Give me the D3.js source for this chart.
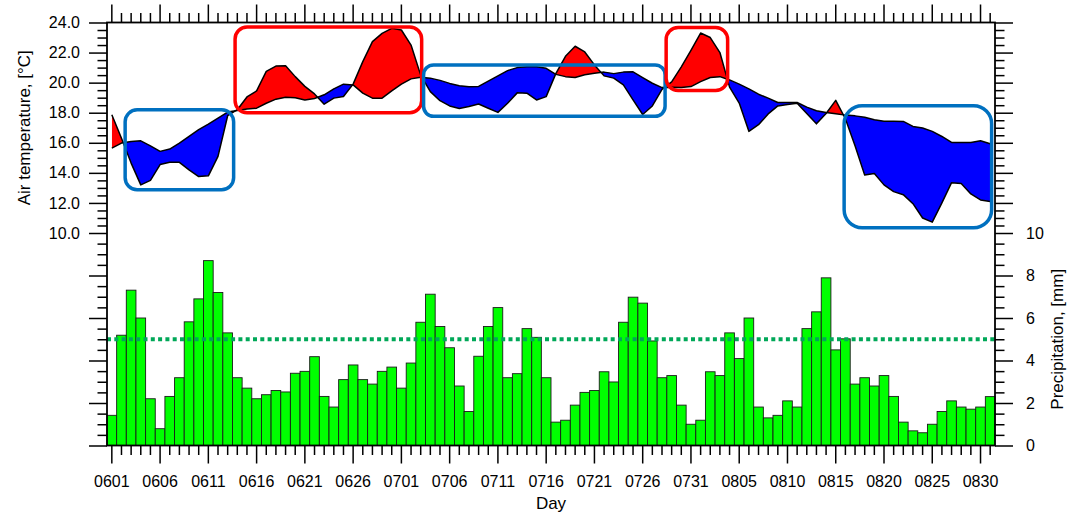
<!DOCTYPE html>
<html>
<head>
<meta charset="utf-8">
<script src="https://cdn.jsdelivr.net/npm/d3@7"></script>
<style>
  html, body { margin: 0; padding: 0; background: #fff; }
  svg { display: block; font-family: "Liberation Sans", Arial, Helvetica, sans-serif; }
</style>
</head>
<body>
<svg id="chart" width="1068" height="515"></svg>
<script>
// ---------------- DATA ----------------
const days = [
  "0601","0602","0603","0604","0605","0606","0607","0608","0609","0610",
  "0611","0612","0613","0614","0615","0616","0617","0618","0619","0620",
  "0621","0622","0623","0624","0625","0626","0627","0628","0629","0630",
  "0701","0702","0703","0704","0705","0706","0707","0708","0709","0710",
  "0711","0712","0713","0714","0715","0716","0717","0718","0719","0720",
  "0721","0722","0723","0724","0725","0726","0727","0728","0729","0730","0731",
  "0801","0802","0803","0804","0805","0806","0807","0808","0809","0810",
  "0811","0812","0813","0814","0815","0816","0817","0818","0819","0820",
  "0821","0822","0823","0824","0825","0826","0827","0828","0829","0830","0831"
];

// Air temperature (this period) – red where above reference, blue where below
const tempObserved = [
  17.86, 16.3, 14.65, 13.2, 13.5, 14.55, 14.7, 14.7, 14.2, 13.75,
  13.8, 15.1, 17.8, 18.2, 19.05, 19.45, 20.75, 21.1, 21.13, 20.4,
  19.75, 19.25, 18.57, 18.97, 19.08, 19.9, 21.4, 22.73, 23.28, 23.61,
  23.5, 22.5, 20.5, 19.4, 18.8, 18.45, 18.28, 18.41, 18.58, 18.3,
  18.02, 18.63, 19.32, 19.3, 18.85, 19.07, 20.6, 21.75, 22.42, 22.04,
  21.18, 20.45, 20.3, 19.85, 18.86, 17.88, 18.45, 19.55, 20.05, 21.05,
  22.15, 23.3, 23.0, 22.0, 19.7, 18.64, 16.76, 17.2, 17.92, 18.45,
  18.55, 18.63, 17.95, 17.26, 17.95, 18.82, 17.6, 15.8, 13.85, 13.95,
  13.2, 12.75, 12.55, 11.95, 11.0, 10.72, 12.0, 13.35, 13.3, 12.6,
  12.2, 12.1
];

// Reference air temperature
const tempReference = [
  15.65, 15.98, 16.09, 16.13, 15.8, 15.43, 15.58, 15.98, 16.42, 16.87,
  17.24, 17.64, 18.04, 18.15, 18.25, 18.3, 18.63, 18.9, 19.03, 19.0,
  18.85, 18.95, 19.19, 19.59, 19.9, 19.85, 19.3, 18.97, 18.97, 19.45,
  19.9, 20.25, 20.36, 20.3, 20.15, 19.95, 19.8, 19.72, 19.75, 20.1,
  20.45, 20.8, 21.0, 21.05, 21.05, 20.95, 20.55, 20.4, 20.34, 20.52,
  20.63, 20.7, 20.6, 20.7, 20.72, 20.34, 19.96, 19.67, 19.7, 19.67,
  19.74, 20.07, 20.34, 20.4, 20.18, 19.9, 19.59, 19.23, 18.97, 18.68,
  18.68, 18.68, 18.37, 18.13, 18.01, 17.93, 17.84, 17.79, 17.7, 17.53,
  17.44, 17.44, 17.42, 17.09, 16.98, 16.76, 16.42, 16.02, 16.02, 16.02,
  16.13, 15.93
];

// Daily precipitation, mm
const precipitation = [
  1.42, 5.19, 7.31, 6.0, 2.2, 0.79, 2.31, 3.19, 5.82, 6.9,
  8.7, 7.2, 5.3, 3.19, 2.7, 2.2, 2.39, 2.59, 2.52, 3.4,
  3.49, 4.18, 2.31, 1.81, 3.1, 3.79, 3.1, 2.89, 3.49, 3.69,
  2.7, 3.88, 5.8, 7.12, 5.6, 4.6, 2.8, 1.6, 4.2, 5.6,
  6.49, 3.19, 3.38, 5.5, 5.09, 3.19, 1.1, 1.19, 1.9, 2.5,
  2.59, 3.47, 2.99, 5.8, 6.98, 6.7, 4.92, 3.19, 3.29, 1.9,
  1.0, 1.19, 3.47, 3.29, 5.3, 4.09, 6.0, 1.81, 1.3, 1.42,
  2.1, 1.81, 5.5, 6.29, 7.89, 4.5, 5.02, 2.89, 3.19, 2.8,
  3.29, 2.31, 1.1, 0.69, 0.6, 1.0, 1.6, 2.1, 1.81, 1.71,
  1.81, 2.3
];

const precipThreshold = 5;

const dayTickLabels = ["0601","0606","0611","0616","0621","0626","0701","0706","0711","0716",
                       "0721","0726","0731","0805","0810","0815","0820","0825","0830"];
const tempTickLabels = [10, 12, 14, 16, 18, 20, 22, 24];
const precipTickLabels = [0, 2, 4, 6, 8, 10];

// Highlight boxes (day-index span, temperature span)
const highlightBoxes = [
  { from: 1.38,  to: 12.62, top: 18.19, bottom: 12.88, kind: "cold", r: 12 },
  { from: 12.77, to: 32.1,  top: 23.7,  bottom: 17.99, kind: "warm", r: 12 },
  { from: 32.3,  to: 57.32, top: 21.18, bottom: 17.76, kind: "cold", r: 10 },
  { from: 57.43, to: 63.8,  top: 23.67, bottom: 19.48, kind: "warm", r: 12 },
  { from: 75.87, to: 91.15, top: 18.46, bottom: 10.35, kind: "cold", r: 18 }
];

// ---------------- LAYOUT ----------------
const L = 107, R = 995, T = 22.5, B = 445.5, MID = 233;
const MAJ = 18, MIN = 9.5;

const svg = d3.select("#chart");
svg.append("rect").attr("width", 1068).attr("height", 515).attr("fill", "#fff");

const xBand = d3.scaleBand().domain(days).range([L, R]).padding(0);
const xLin = d3.scaleLinear().domain([-0.5, days.length - 0.5]).range([L, R]);
const yT = d3.scaleLinear().domain([10, 24]).range([MID, T]);
const yP = d3.scaleLinear().domain([0, 10]).range([B, MID]);

// ---------------- PRECIPITATION BARS ----------------
svg.append("g").selectAll("rect").data(precipitation).join("rect")
  .attr("x", (d, i) => xLin(i - 0.5))
  .attr("width", (d, i) => xLin(i + 0.5) - xLin(i - 0.5))
  .attr("y", d => yP(d))
  .attr("height", d => yP(0) - yP(d))
  .attr("fill", "#00ff00")
  .attr("stroke", "#1a1a1a")
  .attr("stroke-width", 0.9);

svg.append("line")
  .attr("x1", L).attr("x2", R)
  .attr("y1", yP(precipThreshold)).attr("y2", yP(precipThreshold))
  .attr("stroke", "#00a858")
  .attr("stroke-width", 4)
  .attr("stroke-dasharray", "4,3.3");

// ---------------- TEMPERATURE DIFFERENCE ----------------
const pairs = tempObserved.map((a, i) => ({ i, a, b: tempReference[i] }));

const defs = svg.append("defs");
defs.append("clipPath").attr("id", "clipBelowA").append("path")
  .datum(pairs)
  .attr("d", d3.area().x(d => xLin(d.i)).y0(B).y1(d => yT(d.a)));
defs.append("clipPath").attr("id", "clipAboveA").append("path")
  .datum(pairs)
  .attr("d", d3.area().x(d => xLin(d.i)).y0(0).y1(d => yT(d.a)));

const between = d3.area().x(d => xLin(d.i)).y0(d => yT(d.b)).y1(d => yT(d.a));

svg.append("path").datum(pairs)
  .attr("clip-path", "url(#clipBelowA)")
  .attr("d", between).attr("fill", "#ff0000");
svg.append("path").datum(pairs)
  .attr("clip-path", "url(#clipAboveA)")
  .attr("d", between).attr("fill", "#0000ff");

const line = d3.line().x((d, i) => xLin(i)).y(d => yT(d));
svg.append("path").datum(tempReference).attr("d", line)
  .attr("fill", "none").attr("stroke", "#000").attr("stroke-width", 1.5).attr("stroke-linejoin", "round");
svg.append("path").datum(tempObserved).attr("d", line)
  .attr("fill", "none").attr("stroke", "#000").attr("stroke-width", 1.5).attr("stroke-linejoin", "round");

// ---------------- HIGHLIGHT BOXES ----------------
svg.append("g").selectAll("rect").data(highlightBoxes).join("rect")
  .attr("x", d => xLin(d.from))
  .attr("y", d => yT(d.top))
  .attr("width", d => xLin(d.to) - xLin(d.from))
  .attr("height", d => yT(d.bottom) - yT(d.top))
  .attr("rx", d => d.r).attr("ry", d => d.r)
  .attr("fill", "none")
  .attr("stroke", d => d.kind === "warm" ? "#ff0000" : "#0070c0")
  .attr("stroke-width", 3.5);

// ---------------- AXES ----------------
function styleAxis(g) {
  g.select(".domain").remove();
  g.selectAll(".tick line").attr("stroke", "#000").attr("stroke-width", 1.5);
  g.selectAll(".tick text").attr("font-size", 16).attr("fill", "#000")
    .attr("font-family", "'Liberation Sans', Arial, Helvetica, sans-serif");
}

const tempMinor = d3.range(10, 24.01, 0.5).filter(v => tempTickLabels.indexOf(v) < 0);
const precipMinor = d3.range(0, 10.01, 0.5).filter(v => precipTickLabels.indexOf(v) < 0);

// left
svg.append("g").attr("transform", `translate(${L},0)`)
  .call(d3.axisLeft(yT).tickValues(tempTickLabels).tickSize(MAJ).tickSizeOuter(0).tickPadding(9).tickFormat(d3.format(".1f")))
  .call(styleAxis);
svg.append("g").attr("transform", `translate(${L},0)`)
  .call(d3.axisLeft(yT).tickValues(tempMinor).tickSize(MIN).tickSizeOuter(0).tickFormat(""))
  .call(styleAxis);
svg.append("g").attr("transform", `translate(${L},0)`)
  .call(d3.axisLeft(yP).tickValues(precipTickLabels.slice(0, -1)).tickSize(MAJ).tickSizeOuter(0).tickFormat(""))
  .call(styleAxis);
svg.append("g").attr("transform", `translate(${L},0)`)
  .call(d3.axisLeft(yP).tickValues(precipMinor).tickSize(MIN).tickSizeOuter(0).tickFormat(""))
  .call(styleAxis);

// right
svg.append("g").attr("transform", `translate(${R},0)`)
  .call(d3.axisRight(yT).tickValues(tempTickLabels.slice(1)).tickSize(MAJ).tickSizeOuter(0).tickFormat(""))
  .call(styleAxis);
svg.append("g").attr("transform", `translate(${R},0)`)
  .call(d3.axisRight(yT).tickValues(tempMinor).tickSize(MIN).tickSizeOuter(0).tickFormat(""))
  .call(styleAxis);
svg.append("g").attr("transform", `translate(${R},0)`)
  .call(d3.axisRight(yP).tickValues(precipTickLabels).tickSize(MAJ).tickSizeOuter(0).tickPadding(13).tickFormat(d3.format("d")))
  .call(styleAxis);
svg.append("g").attr("transform", `translate(${R},0)`)
  .call(d3.axisRight(yP).tickValues(precipMinor).tickSize(MIN).tickSizeOuter(0).tickFormat(""))
  .call(styleAxis);

// top
svg.append("g").attr("transform", `translate(0,${T})`)
  .call(d3.axisTop(xBand).tickValues(dayTickLabels).tickSize(MAJ).tickSizeOuter(0).tickFormat(""))
  .call(styleAxis);
svg.append("g").attr("transform", `translate(0,${T})`)
  .call(d3.axisTop(xBand).tickValues(days.filter(d => dayTickLabels.indexOf(d) < 0)).tickSize(MIN).tickSizeOuter(0).tickFormat(""))
  .call(styleAxis);

// bottom
svg.append("g").attr("transform", `translate(0,${B})`)
  .call(d3.axisBottom(xBand).tickValues(dayTickLabels).tickSize(MAJ).tickSizeOuter(0).tickPadding(12))
  .call(styleAxis);
svg.append("g").attr("transform", `translate(0,${B})`)
  .call(d3.axisBottom(xBand).tickValues(days.filter(d => dayTickLabels.indexOf(d) < 0)).tickSize(MIN).tickSizeOuter(0).tickFormat(""))
  .call(styleAxis);

// frame
svg.append("rect").attr("x", L).attr("y", T).attr("width", R - L).attr("height", B - T)
  .attr("fill", "none").attr("stroke", "#000").attr("stroke-width", 1.8);

// ---------------- TITLES ----------------
svg.append("text")
  .attr("transform", `translate(29.5,${(T + MID) / 2}) rotate(-90)`)
  .attr("text-anchor", "middle").attr("font-size", 17).attr("fill", "#000")
  .text("Air temperature, [°C]");

svg.append("text")
  .attr("transform", `translate(1062.5,${(MID + B) / 2}) rotate(-90)`)
  .attr("text-anchor", "middle").attr("font-size", 17).attr("fill", "#000")
  .text("Precipitation, [mm]");

svg.append("text")
  .attr("x", (L + R) / 2).attr("y", 509)
  .attr("text-anchor", "middle").attr("font-size", 17).attr("fill", "#000")
  .text("Day");
</script>
</body>
</html>
